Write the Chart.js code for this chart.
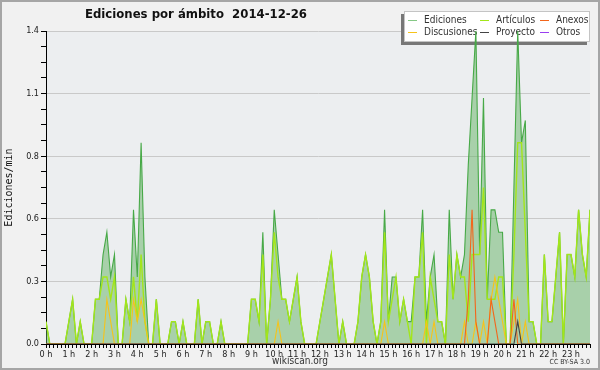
<!DOCTYPE html>
<html>
<head>
<meta charset="utf-8">
<script src="https://cdn.jsdelivr.net/npm/chart.js@4.4.1/dist/chart.umd.min.js"></script>
<style>
  body { margin: 0; background: #f1f1f1; }
  canvas { display: block; }
</style>
</head>
<body>
<canvas id="chart" width="600" height="370"></canvas>
<script>
// Edits per minute, one value per 10-minute slot (0:00 ... 23:50)
const hourLabels = ['0 h', '1 h', '2 h', '3 h', '4 h', '5 h', '6 h', '7 h', '8 h', '9 h', '10 h', '11 h',
                    '12 h', '13 h', '14 h', '15 h', '16 h', '17 h', '18 h', '19 h', '20 h', '21 h', '22 h', '23 h'];
const yTickLabels = ['0.0', '0.3', '0.6', '0.8', '1.1', '1.4'];
const seriesNames = ['Ediciones', 'Artículos', 'Anexos', 'Discusiones', 'Proyecto', 'Otros'];

const ediciones = [
  0.1, 0, 0, 0, 0, 0, 0.1, 0.2, 0, 0.1, 0, 0,
  0, 0.2, 0.2, 0.4, 0.5, 0.3, 0.4, 0, 0, 0.2, 0.1, 0.6,
  0.3, 0.9, 0.3, 0, 0, 0.2, 0, 0, 0, 0.1, 0.1, 0,
  0.1, 0, 0, 0, 0.2, 0, 0.1, 0.1, 0, 0, 0.1, 0,
  0, 0, 0, 0, 0, 0, 0.2, 0.2, 0.1, 0.5, 0, 0.2,
  0.6, 0.4, 0.2, 0.2, 0.1, 0.2, 0.3, 0.1, 0, 0, 0, 0,
  0.1, 0.2, 0.3, 0.4, 0.2, 0, 0.1, 0, 0, 0, 0.1, 0.3,
  0.4, 0.3, 0.1, 0, 0.1, 0.6, 0.1, 0.3, 0.3, 0.1, 0.2, 0.1,
  0.1, 0.3, 0.3, 0.6, 0.1, 0.3, 0.4, 0.1, 0.1, 0, 0.6, 0.2,
  0.4, 0.3, 0.4, 0.8, 1.1, 1.4, 0.4, 1.1, 0.2, 0.6, 0.6, 0.5,
  0.5, 0, 0, 0.7, 1.4, 0.9, 1.0, 0.1, 0.1, 0, 0, 0.4,
  0.1, 0.1, 0.3, 0.5, 0, 0.4, 0.4, 0.3, 0.6, 0.4, 0.3, 0.6
];
const articulos = [
  0.1, 0, 0, 0, 0, 0, 0.1, 0.2, 0, 0.1, 0, 0,
  0, 0.2, 0.2, 0.3, 0.3, 0.2, 0.3, 0, 0, 0.2, 0.1, 0.3,
  0.1, 0.4, 0.1, 0, 0, 0.2, 0, 0, 0, 0.1, 0.1, 0,
  0.1, 0, 0, 0, 0.2, 0, 0.1, 0.1, 0, 0, 0.1, 0,
  0, 0, 0, 0, 0, 0, 0.2, 0.2, 0.1, 0.4, 0, 0.2,
  0.5, 0.3, 0.2, 0.2, 0.1, 0.2, 0.3, 0.1, 0, 0, 0, 0,
  0.1, 0.2, 0.3, 0.4, 0.2, 0, 0.1, 0, 0, 0, 0.1, 0.3,
  0.4, 0.3, 0.1, 0, 0.1, 0.5, 0.1, 0.2, 0.3, 0.1, 0.2, 0.1,
  0, 0.3, 0.3, 0.5, 0, 0.3, 0.2, 0.1, 0.1, 0, 0.4, 0.2,
  0.4, 0.3, 0.3, 0.1, 0.4, 0.4, 0.4, 0.7, 0.2, 0.2, 0.2, 0.3,
  0.3, 0, 0, 0.4, 0.9, 0.9, 0.5, 0.1, 0.1, 0, 0, 0.4,
  0.1, 0.1, 0.3, 0.5, 0, 0.4, 0.4, 0.3, 0.6, 0.4, 0.3, 0.6
];
const discusiones = [
  0, 0, 0, 0, 0, 0, 0, 0, 0, 0, 0, 0,
  0, 0, 0, 0, 0.2, 0.1, 0, 0, 0, 0, 0, 0.2,
  0.1, 0.2, 0.1, 0, 0, 0, 0, 0, 0, 0, 0, 0,
  0, 0, 0, 0, 0, 0, 0, 0, 0, 0, 0, 0,
  0, 0, 0, 0, 0, 0, 0, 0, 0, 0, 0, 0,
  0, 0.1, 0, 0, 0, 0, 0, 0, 0, 0, 0, 0,
  0, 0, 0, 0, 0, 0, 0, 0, 0, 0, 0, 0,
  0, 0, 0, 0, 0, 0.1, 0, 0, 0, 0, 0, 0,
  0, 0, 0, 0, 0.1, 0, 0.1, 0, 0, 0, 0, 0,
  0, 0, 0.1, 0, 0, 0.1, 0, 0.1, 0, 0.2, 0.3, 0.2,
  0.1, 0, 0, 0.1, 0.2, 0, 0.1, 0, 0, 0, 0, 0,
  0, 0, 0, 0, 0, 0, 0, 0, 0, 0, 0, 0
];
const anexos = [
  0, 0, 0, 0, 0, 0, 0, 0, 0, 0, 0, 0,
  0, 0, 0, 0, 0, 0, 0, 0, 0, 0, 0, 0,
  0, 0, 0, 0, 0, 0, 0, 0, 0, 0, 0, 0,
  0, 0, 0, 0, 0, 0, 0, 0, 0, 0, 0, 0,
  0, 0, 0, 0, 0, 0, 0, 0, 0, 0, 0, 0,
  0, 0, 0, 0, 0, 0, 0, 0, 0, 0, 0, 0,
  0, 0, 0, 0, 0, 0, 0, 0, 0, 0, 0, 0,
  0, 0, 0, 0, 0, 0, 0, 0, 0, 0, 0, 0,
  0, 0, 0, 0, 0, 0, 0, 0, 0, 0, 0, 0,
  0, 0, 0, 0.2, 0.6, 0.1, 0, 0, 0, 0.2, 0.1, 0,
  0, 0, 0, 0.2, 0, 0, 0, 0, 0, 0, 0, 0,
  0, 0, 0, 0, 0, 0, 0, 0, 0, 0, 0, 0
];
const proyecto = [
  0, 0, 0, 0, 0, 0, 0, 0, 0, 0, 0, 0,
  0, 0, 0, 0, 0, 0, 0, 0, 0, 0, 0, 0,
  0, 0, 0, 0, 0, 0, 0, 0, 0, 0, 0, 0,
  0, 0, 0, 0, 0, 0, 0, 0, 0, 0, 0, 0,
  0, 0, 0, 0, 0, 0, 0, 0, 0, 0, 0, 0,
  0, 0, 0, 0, 0, 0, 0, 0, 0, 0, 0, 0,
  0, 0, 0, 0, 0, 0, 0, 0, 0, 0, 0, 0,
  0, 0, 0, 0, 0, 0, 0, 0, 0, 0, 0, 0,
  0, 0, 0, 0, 0, 0, 0, 0, 0, 0, 0, 0,
  0, 0, 0, 0, 0, 0, 0, 0, 0, 0, 0, 0,
  0, 0, 0, 0, 0.1, 0, 0, 0, 0, 0, 0, 0,
  0, 0, 0, 0, 0, 0, 0, 0, 0, 0, 0, 0
];
const otros = new Array(144).fill(0); // nothing in "Otros" that day

const colors = {
  ediciones: '#47a947',
  edicionesFill: 'rgba(100, 178, 100, 0.5)',
  articulos: '#a3e61a',
  anexos: '#f2661c',
  discusiones: '#f6c31a',
  proyecto: '#444444',
  otros: '#9a3ff0'
};

const FONT = "'DejaVu Sans Condensed', 'DejaVu Sans', sans-serif";
Chart.defaults.font.family = FONT;
Chart.defaults.color = '#222';

const toPoints = arr => arr.map((v, i) => ({ x: i, y: v }));

function lineSet(label, data, color, order, extra) {
  return Object.assign({
    label: label,
    data: toPoints(data),
    borderColor: color,
    borderWidth: 1.3,
    pointRadius: 0,
    tension: 0,
    fill: false,
    order: order
  }, extra || {});
}

// background, legend box and the loose texts around the plot
const decor = {
  id: 'decor',
  beforeDraw(chart) {
    const { ctx, chartArea: a } = chart;
    ctx.save();
    ctx.fillStyle = '#f1f1f1';
    ctx.fillRect(0, 0, chart.width, chart.height);
    ctx.fillStyle = '#eceef0';
    ctx.fillRect(a.left, a.top, a.right - a.left, a.bottom - a.top);
    ctx.restore();
  },
  beforeDatasetsDraw(chart) {
    // pChart puts the legend under the curves
    const ctx = chart.ctx;
    ctx.save();
    ctx.fillStyle = '#777777';
    ctx.fillRect(401, 14, 186, 31);
    ctx.fillStyle = '#ffffff';
    ctx.fillRect(404, 11, 186, 31);
    ctx.strokeStyle = '#c4c4c4';
    ctx.lineWidth = 1;
    ctx.strokeRect(404.5, 11.5, 185, 30);

    const items = [
      [seriesNames[0], colors.ediciones, 408, 20],
      [seriesNames[1], colors.articulos, 480, 20],
      [seriesNames[2], colors.anexos, 540, 20],
      [seriesNames[3], colors.discusiones, 408, 32],
      [seriesNames[4], colors.proyecto, 480, 32],
      [seriesNames[5], colors.otros, 540, 32]
    ];
    ctx.font = '10px ' + FONT;
    ctx.textBaseline = 'middle';
    items.forEach(([name, color, x, y]) => {
      ctx.strokeStyle = color === colors.ediciones ? '#85c885' : color;
      ctx.beginPath();
      ctx.moveTo(x, y + 0.5);
      ctx.lineTo(x + 9, y + 0.5);
      ctx.stroke();
      ctx.fillStyle = '#333';
      ctx.fillText(name, x + 16, y);
    });
    ctx.restore();
  },
  afterDraw(chart) {
    const ctx = chart.ctx;
    ctx.save();
    ctx.strokeStyle = '#a6a6a6';
    ctx.lineWidth = 2;
    ctx.strokeRect(1, 1, chart.width - 2, chart.height - 2);

    ctx.fillStyle = '#111';
    ctx.textBaseline = 'middle';
    ctx.font = 'bold 13px ' + FONT;
    ctx.fillText('Ediciones por ámbito  2014-12-26', 85, 15);

    ctx.fillStyle = '#333';
    ctx.font = '10px ' + FONT;
    ctx.textAlign = 'center';
    ctx.fillText('wikiscan.org', 300, 361);
    ctx.font = '7px ' + FONT;
    ctx.textAlign = 'right';
    ctx.fillText('CC BY-SA 3.0', 590, 362);
    ctx.restore();
  }
};

new Chart(document.getElementById('chart'), {
  type: 'line',
  data: {
    datasets: [
      lineSet(seriesNames[0], ediciones, colors.ediciones, 6,
              { fill: 'origin', backgroundColor: colors.edicionesFill, borderWidth: 1.1 }),
      lineSet(seriesNames[1], articulos, colors.articulos, 5, { borderWidth: 1.4 }),
      lineSet(seriesNames[3], discusiones, colors.discusiones, 4, { borderWidth: 1.1 }),
      lineSet(seriesNames[2], anexos, colors.anexos, 3, { borderWidth: 1.1 }),
      lineSet(seriesNames[4], proyecto, colors.proyecto, 2, { borderWidth: 1.1 }),
      lineSet(seriesNames[5], otros, colors.otros, 1, { borderWidth: 0 })
    ]
  },
  options: {
    responsive: false,
    animation: false,
    devicePixelRatio: 1,
    layout: { padding: { top: 31, right: 10, bottom: 0, left: 0 } },
    plugins: {
      legend: { display: false },
      tooltip: { enabled: false }
    },
    scales: {
      x: {
        type: 'linear',
        min: 0,
        max: 143,
        afterFit: s => { s.height = 26; },
        border: { color: '#000', width: 1 },
        grid: { drawOnChartArea: false, tickLength: 4, tickColor: '#000' },
        ticks: {
          stepSize: 1,
          autoSkip: false,
          maxRotation: 0,
          maxTicksLimit: 200,
          padding: 1,
          font: { size: 9 },
          callback: v => (v % 6 === 0 ? hourLabels[v / 6] : '')
        }
      },
      y: {
        min: 0,
        max: 1.4,
        afterFit: s => { s.width = 46; },
        border: { color: '#000', width: 1 },
        grid: {
          color: c => (c.index % 4 === 0 ? '#c9c9c9' : 'rgba(0,0,0,0)'),
          tickColor: '#000',
          tickLength: 5
        },
        title: {
          display: true,
          text: 'Ediciones/min',
          font: { family: "'DejaVu Sans Mono', monospace", size: 10 },
          color: '#111',
          padding: { top: 3, bottom: 0 }
        },
        ticks: {
          stepSize: 0.07,
          maxTicksLimit: 50,
          padding: 2,
          font: { size: 9 },
          callback: (v, i) => (i % 4 === 0 ? yTickLabels[i / 4] : '')
        }
      }
    }
  },
  plugins: [decor]
});
</script>
</body>
</html>
